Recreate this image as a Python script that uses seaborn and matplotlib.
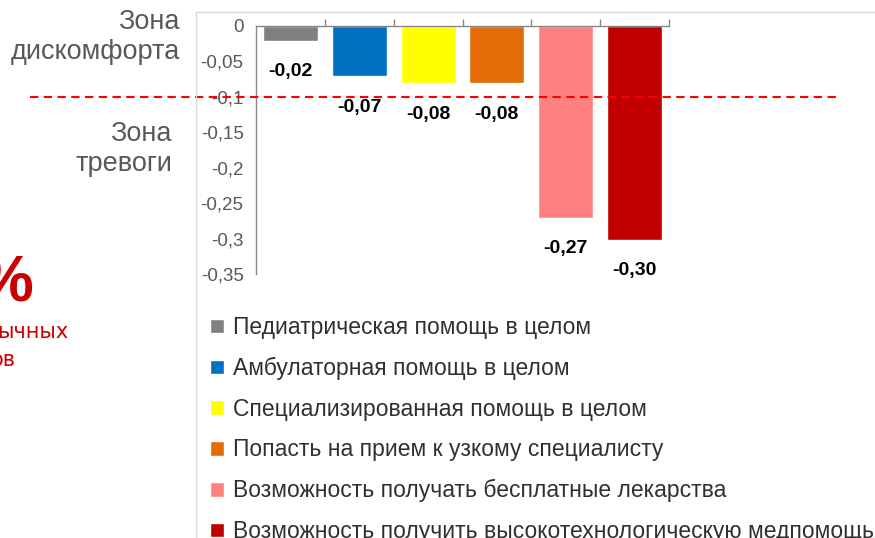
import matplotlib
matplotlib.use("Agg")
import matplotlib.pyplot as plt
from matplotlib.lines import Line2D
import seaborn as sns

categories = [
    "Педиатрическая помощь в целом",
    "Амбулаторная помощь в целом",
    "Специализированная помощь в целом",
    "Попасть на прием к узкому специалисту",
    "Возможность получать бесплатные лекарства",
    "Возможность получить высокотехнологическую медпомощь",
]
values = [-0.021, -0.071, -0.081, -0.081, -0.271, -0.302]
value_labels = ["-0,02", "-0,07", "-0,08", "-0,08", "-0,27", "-0,30"]
colors = ["#808080", "#0070C0", "#FFFF00", "#E36C09", "#FF8080", "#C00000"]
yticks = [0, -0.05, -0.1, -0.15, -0.2, -0.25, -0.3, -0.35]
ytick_labels = ["0", "-0,05", "-0,1", "-0,15", "-0,2", "-0,25", "-0,3", "-0,35"]
threshold = -0.1

sns.set_style("white")
plt.rcParams["font.family"] = ["Liberation Sans", "DejaVu Sans"]

fig = plt.figure(figsize=(8.75, 5.38), dpi=100)
ax = fig.add_axes([256 / 875, 1 - 274 / 538, 413 / 875, 248 / 538])

sns.barplot(x=categories, y=values, hue=categories, palette=colors,
            width=0.8, legend=False, saturation=1, ax=ax)

for cont, lab in zip(ax.containers, value_labels):
    ax.bar_label(cont, labels=[lab], padding=16, fontsize=14, fontweight="bold",
                 color="black")

ax.set_ylim(-0.35, 0)
ax.set_xlim(-0.5, len(categories) - 0.5)
ax.set_yticks(yticks)
ax.set_yticklabels(ytick_labels)
ax.set_xticks([i + 0.5 for i in range(len(categories))])
ax.set_xticklabels([])
ax.xaxis.set_ticks_position("top")
ax.tick_params(axis="x", direction="out", length=5, color="#868686", width=1)
ax.tick_params(axis="y", direction="out", length=5, color="#868686", width=1,
               labelsize=13.5, labelcolor="#595959", pad=4)
ax.set_xlabel("")
for side in ["right", "bottom"]:
    ax.spines[side].set_visible(False)
for side in ["left", "top"]:
    ax.spines[side].set_color("#868686")
    ax.spines[side].set_linewidth(1)

# порог тревоги
ax.axhline(threshold, xmin=(30 - 256) / 413, xmax=(838 - 256) / 413,
           color="#FF0000", lw=1.5, linestyle=(0, (4, 2.6)), clip_on=False, zorder=5)

# рамка области диаграммы
fig.add_artist(Line2D([196 / 875, 196 / 875], [0, 1 - 12 / 538], color="#D9D9D9", lw=1))
fig.add_artist(Line2D([196 / 875, 1], [1 - 12 / 538, 1 - 12 / 538], color="#D9D9D9", lw=1))

fig.text(180 / 875, 1 - 37 / 538, "Зона\nдискомфорта", ha="right", va="center",
         fontsize=19.5, color="#595959", linespacing=1.2)
fig.text(172 / 875, 1 - 149 / 538, "Зона\nтревоги", ha="right", va="center",
         fontsize=19.5, color="#595959", linespacing=1.2)

fig.text(33 / 875, 1 - 284 / 538, "%", ha="right", va="center",
         fontsize=46, fontweight="bold", color="#CC0000")
fig.text(68 / 875, 1 - 332 / 538, "ычных", ha="right", va="center",
         fontsize=15, color="#CC0000", family=["DejaVu Sans"])
fig.text(16 / 875, 1 - 360 / 538, "ов", ha="right", va="center",
         fontsize=15, color="#CC0000", family=["DejaVu Sans"])

handles = [c.patches[0] for c in ax.containers]
fig.legend(handles, categories, loc="upper left",
           bbox_to_anchor=(210 / 875, 1 - 316 / 538), frameon=False,
           borderpad=0, borderaxespad=0, handlelength=0.6, handleheight=0.6,
           handletextpad=0.4, labelspacing=0.775, labelcolor="#303030",
           prop={"size": 16.5})

fig.savefig("out.png", dpi=100)
